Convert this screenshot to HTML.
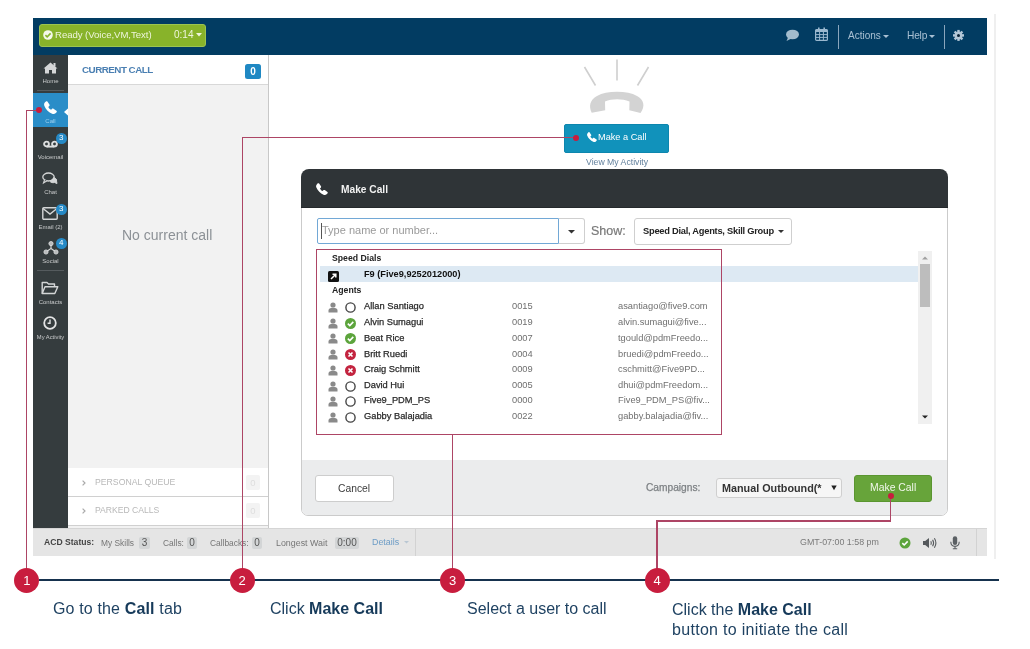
<!DOCTYPE html>
<html><head><meta charset="utf-8">
<style>
*{margin:0;padding:0;box-sizing:border-box}
body{will-change:transform}html,body{width:1030px;height:649px;overflow:hidden;background:#fff;font-family:"Liberation Sans",sans-serif}
.a{position:absolute}
.t{position:absolute;white-space:nowrap;line-height:1}
svg{position:absolute;overflow:visible}
.sl{position:absolute;left:33px;width:35px;text-align:center;font-size:6px;line-height:1;color:#c9cbcc;white-space:nowrap}
.bd{position:absolute;width:10.5px;height:10.5px;border-radius:50%;background:#2589c6;color:#fff;font-size:8px;font-weight:normal;text-align:center;line-height:10.5px}
.row{position:absolute;left:0;width:100%;height:16px}
.nm{position:absolute;left:364px;font-size:9.3px;color:#2a2a2a;-webkit-text-stroke:0.25px #2a2a2a;line-height:1;white-space:nowrap}
.ext{position:absolute;left:512px;font-size:9.3px;color:#6f6f6f;line-height:1;white-space:nowrap}
.em{position:absolute;left:618px;font-size:9.3px;color:#6f6f6f;line-height:1;white-space:nowrap}
.rl{position:absolute;background:#ad4565}
.circ{position:absolute;width:25px;height:25px;border-radius:50%;background:#c81d3e;color:#fff;font-size:13px;text-align:center;line-height:25px}
.ann{position:absolute;font-size:16px;color:#1f4262;line-height:1;white-space:nowrap}
.ann b{color:#163a5a}
</style></head><body>
<!-- outer right gray line -->
<div class="a" style="left:994px;top:14px;width:2px;height:545px;background:#efefef"></div>

<!-- ============ TOP BAR ============ -->
<div class="a" style="left:33px;top:18px;width:954px;height:37px;background:#023c62"></div>
<div class="a" style="left:39px;top:24px;width:167px;height:23px;background:#88b32a;border:1px solid #9cc450;border-radius:3px"></div>
<svg style="left:42px;top:29.3px" width="12" height="12" viewBox="0 0 12 12"><circle cx="6" cy="6" r="4.8" fill="#f4f8ea"/><path d="M3.4 6.1 L5.2 7.9 L8.6 4.4" stroke="#87b42f" stroke-width="1.6" fill="none"/></svg>
<div class="t" style="left:55px;top:29.6px;font-size:9.6px;letter-spacing:-0.05px;color:#eef5dc">Ready (Voice,VM,Text)</div>
<div class="t" style="left:174px;top:30px;font-size:10px;color:#eef5dc">0:14</div>
<svg style="left:196px;top:33px" width="6" height="4" viewBox="0 0 6 4"><path d="M0 0 H6 L3 3.5Z" fill="#eef5dc"/></svg>

<!-- chat bubble -->
<svg style="left:785px;top:29px" width="15" height="13" viewBox="0 0 15 13"><ellipse cx="7.5" cy="5.5" rx="6.5" ry="4.8" fill="#a3bccd"/><path d="M3 8.5 L1.5 12 L6.5 9.5Z" fill="#a3bccd"/></svg>
<!-- calendar -->
<svg style="left:815px;top:27px" width="13" height="14" viewBox="0 0 13 14"><rect x="0.6" y="2.6" width="11.8" height="10.8" rx="1" fill="none" stroke="#9ab8cf" stroke-width="1.2"/><rect x="0.6" y="2.6" width="11.8" height="2.4" fill="#9ab8cf"/><rect x="3" y="0.5" width="1.6" height="3" fill="#9ab8cf"/><rect x="8.4" y="0.5" width="1.6" height="3" fill="#9ab8cf"/><path d="M1 7.6H12M1 10.4H12M4.6 5V13M8.4 5V13" stroke="#9ab8cf" stroke-width="1"/></svg>
<div class="a" style="left:838px;top:25px;width:1px;height:24px;background:#8aa6bd"></div>
<div class="t" style="left:848px;top:31px;font-size:10px;color:#a9c0d3">Actions</div>
<svg style="left:883px;top:35px" width="6" height="4" viewBox="0 0 6 4"><path d="M0 0 H6 L3 3Z" fill="#a9c0d3"/></svg>
<div class="t" style="left:907px;top:30.6px;font-size:10.2px;letter-spacing:-0.2px;color:#a9c0d3">Help</div>
<svg style="left:929px;top:35px" width="6" height="4" viewBox="0 0 6 4"><path d="M0 0 H6 L3 3Z" fill="#a9c0d3"/></svg>
<div class="a" style="left:944px;top:25px;width:1px;height:24px;background:#8aa6bd"></div>
<!-- gear -->
<svg style="left:952px;top:29px" width="13" height="13" viewBox="-6.5 -6.4 13 13"><g fill="#b3c7d7"><circle r="3.9"/><rect x="-1.2" y="-5.5" width="2.4" height="11"/><rect x="-1.2" y="-5.5" width="2.4" height="11" transform="rotate(45)"/><rect x="-1.2" y="-5.5" width="2.4" height="11" transform="rotate(90)"/><rect x="-1.2" y="-5.5" width="2.4" height="11" transform="rotate(135)"/></g><circle r="1.5" fill="#0a2236"/></svg>

<!-- ============ SIDEBAR ============ -->
<div class="a" style="left:33px;top:55px;width:35px;height:473px;background:#353c3e"></div>
<!-- home -->
<svg style="left:43px;top:62px" width="15" height="12" viewBox="0 0 15 12"><path d="M7.5 0.5 L0.5 6.5 L2 6.5 L2 11.5 L6 11.5 L6 8 L9 8 L9 11.5 L13 11.5 L13 6.5 L14.5 6.5 Z" fill="#d4d6d7"/><rect x="10.5" y="1" width="2" height="3.5" fill="#d4d6d7"/></svg>
<div class="sl" style="top:78px">Home</div>
<div class="a" style="left:37px;top:90px;width:27px;height:1px;background:#555b5e"></div>
<!-- call active -->
<div class="a" style="left:33px;top:93px;width:35px;height:34px;background:#2a8dc8"></div>
<svg style="left:44px;top:101px" width="13" height="13" viewBox="0 0 13 13"><path d="M3.4 0.6 L5.4 3.5 C5.8 4.1 5.7 4.7 5.2 5.1 L4.3 5.9 C5 7.3 5.8 8.1 7.1 8.8 L7.9 7.9 C8.3 7.4 8.9 7.3 9.5 7.7 L12.4 9.7 C12.9 10.1 13 10.7 12.6 11.2 L11.5 12.3 C10.6 13.1 9.3 13.2 8.1 12.7 C4.8 11.3 1.8 8.3 0.4 4.9 C-0.1 3.7 0 2.4 0.8 1.5 L1.9 0.4 C2.4 0 3 0.1 3.4 0.6 Z" fill="#fff"/></svg>
<div class="sl" style="top:118px;color:#9fd0ee">Call</div>
<svg style="left:63.5px;top:108.4px" width="4.5" height="8" viewBox="0 0 4.5 8"><path d="M4.5 0 L0 4 L4.5 8Z" fill="#fff"/></svg>
<!-- voicemail -->
<svg style="left:43px;top:139.5px" width="15" height="8" viewBox="0 0 15 8"><circle cx="3.5" cy="4" r="2.4" fill="none" stroke="#dcdedf" stroke-width="1.9"/><circle cx="11.5" cy="4" r="2.4" fill="none" stroke="#dcdedf" stroke-width="1.9"/><path d="M3.5 6.6 H11.5" stroke="#dcdedf" stroke-width="1.9"/></svg>
<div class="bd" style="left:56px;top:133px">3</div>
<div class="sl" style="top:154px">Voicemail</div>
<!-- chat -->
<svg style="left:42px;top:172px" width="16" height="13" viewBox="0 0 16 13"><ellipse cx="6.5" cy="5" rx="5.7" ry="4" fill="#353c3e" stroke="#d4d6d7" stroke-width="1.3"/><path d="M2.5 8 L1.5 11 L5 8.8" fill="#353c3e" stroke="#d4d6d7" stroke-width="1.1"/><path d="M11.5 5.5 C14 6.2 15 7.5 14.5 9 L15 11.5 L12.5 10.5 C10.8 11 9 10.5 8 9.5" fill="#d4d6d7" stroke="#d4d6d7" stroke-width="1"/></svg>
<div class="sl" style="top:189px">Chat</div>
<!-- email -->
<svg style="left:42px;top:207px" width="16" height="13" viewBox="0 0 16 13"><rect x="0.8" y="0.8" width="14.4" height="11.4" rx="1" fill="none" stroke="#d4d6d7" stroke-width="1.4"/><path d="M1 1.5 L8 7 L15 1.5" fill="none" stroke="#d4d6d7" stroke-width="1.4"/></svg>
<div class="bd" style="left:56px;top:204px">3</div>
<div class="sl" style="top:224px">Email (2)</div>
<!-- social -->
<svg style="left:42.5px;top:241px" width="16" height="15" viewBox="0 0 16 15"><path d="M8 3 V7.5 L3 11 M8 7.5 L13 11" stroke="#d4d6d7" stroke-width="1.2" fill="none"/><circle cx="8" cy="2.6" r="2.1" fill="#b9bbbc" stroke="#e0e2e3" stroke-width="0.8"/><circle cx="3" cy="11" r="2.1" fill="#b9bbbc" stroke="#e0e2e3" stroke-width="0.8"/><circle cx="13" cy="11" r="2.1" fill="#b9bbbc" stroke="#e0e2e3" stroke-width="0.8"/></svg>
<div class="bd" style="left:56px;top:238px">4</div>
<div class="sl" style="top:258px">Social</div>
<div class="a" style="left:37px;top:270px;width:27px;height:1px;background:#555b5e"></div>
<!-- contacts -->
<svg style="left:41px;top:281px" width="18" height="14" viewBox="0 0 18 14"><path d="M1.2 12.5 V1.5 H6 L7.5 3 H13.5 V5.5" fill="none" stroke="#d4d6d7" stroke-width="1.4" stroke-linejoin="round"/><path d="M1.2 12.5 L4 5.8 H16.8 L13.8 12.5 Z" fill="none" stroke="#d4d6d7" stroke-width="1.4" stroke-linejoin="round"/></svg>
<div class="sl" style="top:299px">Contacts</div>
<!-- clock -->
<svg style="left:43px;top:316px" width="14" height="14" viewBox="0 0 14 14"><circle cx="7" cy="7" r="5.8" fill="none" stroke="#e2e3e4" stroke-width="1.8"/><path d="M7 3.6 V7.3 H4.6" fill="none" stroke="#e2e3e4" stroke-width="1.4"/></svg>
<div class="sl" style="top:335px;font-size:5.8px">My Activity</div>

<!-- ============ CURRENT CALL PANEL ============ -->
<div class="a" style="left:68px;top:55px;width:201px;height:473px;background:#f2f2f2;border-right:1px solid #c8c8c8"></div>
<div class="a" style="left:68px;top:55px;width:200px;height:30px;background:#fff;border-bottom:1px solid #d8d8d8"></div>
<div class="t" style="left:82px;top:64.7px;font-size:9.8px;font-weight:bold;letter-spacing:-0.5px;color:#4a7fb2">CURRENT CALL</div>
<div class="a" style="left:245px;top:64px;width:16px;height:15px;background:#1f88c3;border-radius:2.5px;color:#fff;font-size:10px;font-weight:bold;text-align:center;line-height:15px">0</div>
<div class="t" style="left:122px;top:228px;font-size:14px;color:#8c9196">No current call</div>
<div class="a" style="left:68px;top:468px;width:200px;height:29px;background:#fff;border-bottom:1px solid #d0d0d0"></div>
<div class="a" style="left:68px;top:497px;width:200px;height:29px;background:#fff;border-bottom:1px solid #d0d0d0"></div>
<svg style="left:82px;top:480px" width="4" height="6" viewBox="0 0 4 6"><path d="M0.6 0.6 L3 3 L0.6 5.4" stroke="#aaa" stroke-width="1.2" fill="none"/></svg>
<div class="t" style="left:95px;top:478px;font-size:8.7px;color:#b8b8b8">PERSONAL QUEUE</div>
<div class="a" style="left:246px;top:475px;width:14px;height:15px;background:#f3f3f3;border-radius:2px;color:#dedede;font-size:9.5px;text-align:center;line-height:15px">0</div>
<svg style="left:82px;top:508px" width="4" height="6" viewBox="0 0 4 6"><path d="M0.6 0.6 L3 3 L0.6 5.4" stroke="#aaa" stroke-width="1.2" fill="none"/></svg>
<div class="t" style="left:95px;top:506px;font-size:8.6px;color:#b8b8b8">PARKED CALLS</div>
<div class="a" style="left:246px;top:503px;width:14px;height:15px;background:#f3f3f3;border-radius:2px;color:#dedede;font-size:9.5px;text-align:center;line-height:15px">0</div>

<!-- ============ STATUS BAR ============ -->
<div class="a" style="left:33px;top:528px;width:954px;height:28px;background:#e5e5e5;border-top:1px solid #d5d5d5"></div>
<div class="t" style="left:44px;top:538px;font-size:8.6px;font-weight:bold;color:#444">ACD Status:</div>
<div class="t" style="left:101px;top:538.6px;font-size:8.4px;color:#767676">My Skills</div>
<div class="a" style="left:139px;top:537px;width:11px;height:12px;background:#d3d5d6;border-radius:2px;color:#555;font-size:10px;text-align:center;line-height:12px">3</div>
<div class="t" style="left:163px;top:538.6px;font-size:8.4px;color:#767676">Calls:</div>
<div class="a" style="left:187px;top:537px;width:10px;height:12px;background:#d3d5d6;border-radius:2px;color:#555;font-size:10px;text-align:center;line-height:12px">0</div>
<div class="t" style="left:210px;top:538.6px;font-size:8.4px;color:#767676">Callbacks:</div>
<div class="a" style="left:252px;top:537px;width:10px;height:12px;background:#d3d5d6;border-radius:2px;color:#555;font-size:10px;text-align:center;line-height:12px">0</div>
<div class="t" style="left:276px;top:538.6px;font-size:8.9px;color:#767676">Longest Wait</div>
<div class="a" style="left:335px;top:537px;width:24px;height:12px;background:#d3d5d6;border-radius:2px;color:#555;font-size:10px;text-align:center;line-height:12px">0:00</div>
<div class="t" style="left:372px;top:538px;font-size:8.9px;color:#6c9cc6">Details</div>
<svg style="left:404px;top:541px" width="5" height="3" viewBox="0 0 5 3"><path d="M0 0H5L2.5 2.5Z" fill="#b9c7d3"/></svg>
<div class="a" style="left:415px;top:529px;width:1px;height:27px;background:#d2d2d2"></div>
<div class="t" style="left:800px;top:538px;font-size:8.9px;color:#7a7a7a">GMT-07:00 1:58 pm</div>
<svg style="left:899px;top:537px" width="12" height="12" viewBox="0 0 12 12"><circle cx="6" cy="6" r="5.5" fill="#5ca43c"/><path d="M3.3 6.2 L5.2 8 L8.7 4.4" stroke="#fff" stroke-width="1.6" fill="none"/></svg>
<svg style="left:922px;top:536.5px" width="16" height="12" viewBox="0 0 16 12"><path d="M1 4 H3.2 L7 1 V11 L3.2 8 H1Z" fill="#55595c"/><path d="M8.8 4.2 Q9.9 6 8.8 7.8 M10.6 2.8 Q12.6 6 10.6 9.2 M12.4 1.3 Q15.4 6 12.4 10.7" stroke="#55595c" stroke-width="1.1" fill="none"/></svg>
<svg style="left:950px;top:535.5px" width="10" height="14" viewBox="0 0 10 14"><rect x="2.8" y="0.3" width="4.4" height="8.6" rx="2.2" fill="#5b6064"/><path d="M0.8 5.8 Q0.8 10.4 5 10.4 Q9.2 10.4 9.2 5.8 M5 10.4 V12.6 M2.8 12.8 H7.2" stroke="#5b6064" stroke-width="1.1" fill="none"/></svg>
<div class="a" style="left:976px;top:529px;width:1px;height:27px;background:#d2d2d2"></div>

<!-- ============ MAIN AREA ============ -->
<!-- rays -->
<svg style="left:580px;top:58px" width="75" height="32" viewBox="0 0 75 32"><path d="M4.5 9 L15.5 27.5 M37 1.5 V22.5 M68.5 9 L57.5 27.5" stroke="#cfcfcf" stroke-width="1.6"/></svg>
<!-- handset -->
<svg style="left:589px;top:90px" width="57" height="25" viewBox="0 0 57 25"><path d="M2.7 22.8 C-0.5 16 1 10 8 6 C13 3 20 1.8 28 1.8 C36 1.8 43 3 48 6 C55 10 56.5 16 51.5 23 L40.3 20.2 L40.5 11.5 C33 8.6 23 8.6 16 11.5 L16.2 20.2 Z" fill="#d3d3d3"/></svg>
<div class="a" style="left:564px;top:124px;width:105px;height:29px;background:#1192bb;border:1px solid #0d86ae;border-radius:2px"></div>
<svg style="left:587px;top:132px" width="10" height="10" viewBox="0 0 13 13"><path d="M3.4 0.6 L5.4 3.5 C5.8 4.1 5.7 4.7 5.2 5.1 L4.3 5.9 C5 7.3 5.8 8.1 7.1 8.8 L7.9 7.9 C8.3 7.4 8.9 7.3 9.5 7.7 L12.4 9.7 C12.9 10.1 13 10.7 12.6 11.2 L11.5 12.3 C10.6 13.1 9.3 13.2 8.1 12.7 C4.8 11.3 1.8 8.3 0.4 4.9 C-0.1 3.7 0 2.4 0.8 1.5 L1.9 0.4 C2.4 0 3 0.1 3.4 0.6 Z" fill="#fff"/></svg>
<div class="t" style="left:598px;top:133px;font-size:9.2px;color:#fff">Make a Call</div>
<div class="t" style="left:586px;top:158px;font-size:8.7px;color:#62809d">View My Activity</div>

<!-- ============ DIALOG ============ -->
<div class="a" style="left:301px;top:200px;width:647px;height:316px;border-radius:0 0 7px 7px;background:#fff;border:1px solid #cbcbcb;overflow:hidden">
  <div class="a" style="left:0;top:259px;width:645px;height:57px;background:#ebeced"></div>
</div>
<div class="a" style="left:301px;top:168.5px;width:647px;height:39.5px;border-radius:8px 8px 0 0;background:#2f3437;border-bottom:1px solid #25292c"></div>
<svg style="left:316px;top:183px" width="12" height="12" viewBox="0 0 13 13"><path d="M3.4 0.6 L5.4 3.5 C5.8 4.1 5.7 4.7 5.2 5.1 L4.3 5.9 C5 7.3 5.8 8.1 7.1 8.8 L7.9 7.9 C8.3 7.4 8.9 7.3 9.5 7.7 L12.4 9.7 C12.9 10.1 13 10.7 12.6 11.2 L11.5 12.3 C10.6 13.1 9.3 13.2 8.1 12.7 C4.8 11.3 1.8 8.3 0.4 4.9 C-0.1 3.7 0 2.4 0.8 1.5 L1.9 0.4 C2.4 0 3 0.1 3.4 0.6 Z" fill="#fff"/></svg>
<div class="t" style="left:341px;top:185px;font-size:10.2px;font-weight:bold;color:#f2f2f2">Make Call</div>

<!-- input row -->
<div class="a" style="left:317px;top:217.5px;width:242px;height:26.5px;border:1px solid #72a8d6;border-radius:2px 0 0 2px;background:#fff"></div>
<div class="a" style="left:321px;top:223px;width:1px;height:16px;background:#555"></div>
<div class="t" style="left:322px;top:225px;font-size:11px;color:#9a9a9a">Type name or number...</div>
<div class="a" style="left:559px;top:217.5px;width:26px;height:26.5px;border:1px solid #cfcfcf;border-left:none;border-radius:0 3px 3px 0;background:#fff"></div>
<svg style="left:568px;top:230px" width="7" height="4" viewBox="0 0 7 4"><path d="M0 0H7L3.5 3.5Z" fill="#333"/></svg>
<div class="t" style="left:591px;top:225px;font-size:12.5px;color:#7a7a7a;-webkit-text-stroke:0.2px #7a7a7a">Show:</div>
<div class="a" style="left:634px;top:218px;width:158px;height:27px;border:1px solid #cfcfcf;border-radius:3px;background:#fff"></div>
<div class="t" style="left:643px;top:226.6px;font-size:9.3px;font-weight:bold;letter-spacing:-0.25px;color:#222">Speed Dial, Agents, Skill Group</div>
<svg style="left:778px;top:230px" width="6" height="4" viewBox="0 0 6 4"><path d="M0 0H6L3 3Z" fill="#333"/></svg>

<!-- list -->
<div class="a" style="left:320px;top:266px;width:598px;height:16px;background:#dde9f3"></div>
<div class="t" style="left:332px;top:254px;font-size:8.7px;font-weight:bold;color:#222">Speed Dials</div>
<svg style="left:328px;top:270.8px" width="11" height="11" viewBox="0 0 11 11"><rect x="0" y="0" width="11" height="11" rx="1.5" fill="#111"/><path d="M3 8 L7.5 3.5 M4.5 3.2 H7.8 V6.5" stroke="#fff" stroke-width="1.5" fill="none"/></svg>
<div class="t" style="left:364px;top:270px;font-size:9.2px;font-weight:bold;color:#111">F9 (Five9,9252012000)</div>
<div class="t" style="left:332px;top:286px;font-size:8.7px;font-weight:bold;color:#222">Agents</div>

<svg style="left:328px;top:302.0px" width="10" height="11" viewBox="0 0 10 11"><circle cx="5" cy="3" r="2.6" fill="#8a8a8a"/><path d="M0.5 10.5 V8.5 C0.5 6.8 2 5.8 5 5.8 C8 5.8 9.5 6.8 9.5 8.5 V10.5Z" fill="#8a8a8a"/></svg>
<svg style="left:345px;top:302.0px" width="11" height="11" viewBox="0 0 11 11"><circle cx="5.5" cy="5.5" r="4.6" fill="none" stroke="#444" stroke-width="1.4"/></svg>
<div class="nm" style="top:302.4px">Allan Santiago</div><div class="ext" style="top:302.4px">0015</div><div class="em" style="top:302.4px">asantiago@five9.com</div>
<svg style="left:328px;top:317.5px" width="10" height="11" viewBox="0 0 10 11"><circle cx="5" cy="3" r="2.6" fill="#8a8a8a"/><path d="M0.5 10.5 V8.5 C0.5 6.8 2 5.8 5 5.8 C8 5.8 9.5 6.8 9.5 8.5 V10.5Z" fill="#8a8a8a"/></svg>
<svg style="left:345px;top:317.5px" width="11" height="11" viewBox="0 0 11 11"><circle cx="5.5" cy="5.5" r="5.5" fill="#5ca43c"/><path d="M2.8 5.7 L4.8 7.6 L8.3 3.9" stroke="#fff" stroke-width="1.6" fill="none"/></svg>
<div class="nm" style="top:317.9px">Alvin Sumagui</div><div class="ext" style="top:317.9px">0019</div><div class="em" style="top:317.9px">alvin.sumagui@five...</div>
<svg style="left:328px;top:333.3px" width="10" height="11" viewBox="0 0 10 11"><circle cx="5" cy="3" r="2.6" fill="#8a8a8a"/><path d="M0.5 10.5 V8.5 C0.5 6.8 2 5.8 5 5.8 C8 5.8 9.5 6.8 9.5 8.5 V10.5Z" fill="#8a8a8a"/></svg>
<svg style="left:345px;top:333.3px" width="11" height="11" viewBox="0 0 11 11"><circle cx="5.5" cy="5.5" r="5.5" fill="#5ca43c"/><path d="M2.8 5.7 L4.8 7.6 L8.3 3.9" stroke="#fff" stroke-width="1.6" fill="none"/></svg>
<div class="nm" style="top:333.7px">Beat Rice</div><div class="ext" style="top:333.7px">0007</div><div class="em" style="top:333.7px">tgould@pdmFreedo...</div>
<svg style="left:328px;top:349.2px" width="10" height="11" viewBox="0 0 10 11"><circle cx="5" cy="3" r="2.6" fill="#8a8a8a"/><path d="M0.5 10.5 V8.5 C0.5 6.8 2 5.8 5 5.8 C8 5.8 9.5 6.8 9.5 8.5 V10.5Z" fill="#8a8a8a"/></svg>
<svg style="left:345px;top:349.2px" width="11" height="11" viewBox="0 0 11 11"><circle cx="5.5" cy="5.5" r="5.5" fill="#c3243f"/><path d="M3.5 3.5 L7.5 7.5 M7.5 3.5 L3.5 7.5" stroke="#fff" stroke-width="1.6" fill="none"/></svg>
<div class="nm" style="top:349.6px">Britt Ruedi</div><div class="ext" style="top:349.6px">0004</div><div class="em" style="top:349.6px">bruedi@pdmFreedo...</div>
<svg style="left:328px;top:364.6px" width="10" height="11" viewBox="0 0 10 11"><circle cx="5" cy="3" r="2.6" fill="#8a8a8a"/><path d="M0.5 10.5 V8.5 C0.5 6.8 2 5.8 5 5.8 C8 5.8 9.5 6.8 9.5 8.5 V10.5Z" fill="#8a8a8a"/></svg>
<svg style="left:345px;top:364.6px" width="11" height="11" viewBox="0 0 11 11"><circle cx="5.5" cy="5.5" r="5.5" fill="#c3243f"/><path d="M3.5 3.5 L7.5 7.5 M7.5 3.5 L3.5 7.5" stroke="#fff" stroke-width="1.6" fill="none"/></svg>
<div class="nm" style="top:365.0px">Craig Schmitt</div><div class="ext" style="top:365.0px">0009</div><div class="em" style="top:365.0px">cschmitt@Five9PD...</div>
<svg style="left:328px;top:380.5px" width="10" height="11" viewBox="0 0 10 11"><circle cx="5" cy="3" r="2.6" fill="#8a8a8a"/><path d="M0.5 10.5 V8.5 C0.5 6.8 2 5.8 5 5.8 C8 5.8 9.5 6.8 9.5 8.5 V10.5Z" fill="#8a8a8a"/></svg>
<svg style="left:345px;top:380.5px" width="11" height="11" viewBox="0 0 11 11"><circle cx="5.5" cy="5.5" r="4.6" fill="none" stroke="#444" stroke-width="1.4"/></svg>
<div class="nm" style="top:380.9px">David Hui</div><div class="ext" style="top:380.9px">0005</div><div class="em" style="top:380.9px">dhui@pdmFreedom...</div>
<svg style="left:328px;top:395.9px" width="10" height="11" viewBox="0 0 10 11"><circle cx="5" cy="3" r="2.6" fill="#8a8a8a"/><path d="M0.5 10.5 V8.5 C0.5 6.8 2 5.8 5 5.8 C8 5.8 9.5 6.8 9.5 8.5 V10.5Z" fill="#8a8a8a"/></svg>
<svg style="left:345px;top:395.9px" width="11" height="11" viewBox="0 0 11 11"><circle cx="5.5" cy="5.5" r="4.6" fill="none" stroke="#444" stroke-width="1.4"/></svg>
<div class="nm" style="top:396.3px">Five9_PDM_PS</div><div class="ext" style="top:396.3px">0000</div><div class="em" style="top:396.3px">Five9_PDM_PS@fiv...</div>
<svg style="left:328px;top:411.8px" width="10" height="11" viewBox="0 0 10 11"><circle cx="5" cy="3" r="2.6" fill="#8a8a8a"/><path d="M0.5 10.5 V8.5 C0.5 6.8 2 5.8 5 5.8 C8 5.8 9.5 6.8 9.5 8.5 V10.5Z" fill="#8a8a8a"/></svg>
<svg style="left:345px;top:411.8px" width="11" height="11" viewBox="0 0 11 11"><circle cx="5.5" cy="5.5" r="4.6" fill="none" stroke="#444" stroke-width="1.4"/></svg>
<div class="nm" style="top:412.2px">Gabby Balajadia</div><div class="ext" style="top:412.2px">0022</div><div class="em" style="top:412.2px">gabby.balajadia@fiv...</div>

<!-- scrollbar -->
<div class="a" style="left:918px;top:251px;width:14px;height:173px;background:#f0f0f0"></div>
<div class="a" style="left:920px;top:264px;width:10px;height:43px;background:#bdbdbd"></div>
<svg style="left:922px;top:256px" width="6" height="4" viewBox="0 0 6 4"><path d="M0 3.5H6L3 0.5Z" fill="#a0a0a0"/></svg>
<svg style="left:922px;top:415px" width="6" height="4" viewBox="0 0 6 4"><path d="M0 0.5H6L3 3.5Z" fill="#222"/></svg>

<!-- footer -->
<div class="a" style="left:315px;top:475px;width:79px;height:27px;background:#fff;border:1px solid #cdcdcd;border-radius:3px"></div>
<div class="t" style="left:338px;top:483.5px;font-size:10.3px;color:#3c3c3c">Cancel</div>
<div class="t" style="left:646px;top:482.5px;font-size:10.2px;color:#7d8184;-webkit-text-stroke:0.25px #7d8184">Campaigns:</div>
<div class="a" style="left:716px;top:478px;width:126px;height:20px;background:#f6f6f6;border:1px solid #cfcfcf;border-radius:3px"></div>
<div class="t" style="left:722px;top:483px;font-size:10.8px;font-weight:bold;color:#333">Manual Outbound(*</div>
<svg style="left:830.5px;top:485px" width="6" height="6" viewBox="0 0 6 6"><path d="M0.3 0.5H5.7L3 5.3Z" fill="#222"/></svg>
<div class="a" style="left:854px;top:475px;width:78px;height:27px;background:#67a43a;border:1px solid #5a9530;border-radius:3px"></div>
<div class="t" style="left:870px;top:483px;font-size:10.4px;color:#f0f7ea">Make Call</div>

<!-- ============ ANNOTATIONS ============ -->
<div class="a" style="left:39px;top:579.4px;width:960px;height:2px;background:#16324e"></div>
<!-- red box -->
<div class="a" style="left:316px;top:249px;width:406px;height:185.5px;border:1.5px solid #ad4565"></div>
<!-- line 1 -->
<div class="rl" style="left:25.6px;top:109.6px;width:13px;height:1.4px"></div>
<div class="rl" style="left:25.6px;top:109.6px;width:1.4px;height:460px"></div>
<div class="a" style="left:35.5px;top:107.4px;width:6px;height:6px;border-radius:50%;background:#c81d3e"></div>
<!-- line 2 -->
<div class="rl" style="left:241.5px;top:137px;width:335px;height:1.4px"></div>
<div class="rl" style="left:241.5px;top:137px;width:1.4px;height:432px"></div>
<div class="a" style="left:573px;top:134.6px;width:6px;height:6px;border-radius:50%;background:#c81d3e"></div>
<!-- line 3 -->
<div class="rl" style="left:452px;top:434px;width:1.4px;height:135px"></div>
<!-- line 4 -->
<div class="rl" style="left:890px;top:496px;width:1.4px;height:25.5px"></div>
<div class="rl" style="left:656.3px;top:520.3px;width:235px;height:1.4px"></div>
<div class="rl" style="left:656.3px;top:520.3px;width:1.4px;height:49px"></div>
<div class="a" style="left:887.6px;top:493.3px;width:6px;height:6px;border-radius:50%;background:#c81d3e"></div>

<div class="circ" style="left:14.3px;top:568px">1</div>
<div class="circ" style="left:229.7px;top:568px">2</div>
<div class="circ" style="left:440.2px;top:568px">3</div>
<div class="circ" style="left:644.6px;top:568px">4</div>

<div class="ann" style="left:53px;top:601px;letter-spacing:0.15px">Go to the <b>Call</b> tab</div>
<div class="ann" style="left:270px;top:601px">Click <b>Make Call</b></div>
<div class="ann" style="left:467px;top:601px">Select a user to call</div>
<div class="ann" style="left:672px;top:601.7px">Click the <b>Make Call</b></div>
<div class="ann" style="left:672px;top:621.7px;letter-spacing:0.3px">button to initiate the call</div>
</body></html>
